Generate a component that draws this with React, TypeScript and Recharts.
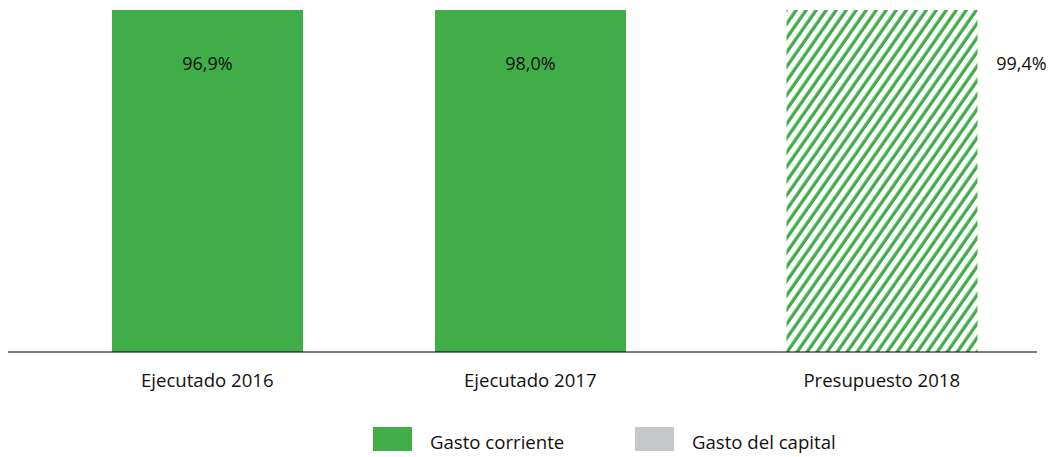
import { BarChart, Bar, XAxis, YAxis, LabelList, Legend } from 'recharts';

// Datos (% sobre el gasto total)
const categorias = ['Ejecutado 2016', 'Ejecutado 2017', 'Presupuesto 2018'];
const gastoCorriente = [96.9, 98.0, 99.4];
const gastoCapital = [3.1, 2.0, 0.6];
const esPresupuesto = [false, false, true];

const VERDE = '#40AD49';
const GRIS = '#C6C7C9';
const FUENTE = '"Open Sans", "Noto Sans", sans-serif';
const ANCHO_BARRA = 191;
const HUECO = -162.5;
// desplazamiento de cada barra respecto al centro de su categoría
const DESPL = (ANCHO_BARRA + HUECO) / 2;

const data = categorias.map((name, i) => ({
  name,
  ejCorr: esPresupuesto[i] ? null : gastoCorriente[i],
  ejCap: esPresupuesto[i] ? null : gastoCapital[i],
  prCorr: esPresupuesto[i] ? gastoCorriente[i] : null,
  prCap: esPresupuesto[i] ? gastoCapital[i] : null,
}));

const fmt = (v: number) => `${v.toFixed(1).replace('.', ',')}%`;

// Etiqueta: centrada dentro de la barra, o a su derecha para el presupuesto
const etiqueta = (fuera: boolean) => (props: any) => {
  const { x, y, width, height, value } = props;
  if (value == null) return null;
  const base = Number(y) + Number(height);
  const cx = fuera ? Number(x) + Number(width) + 44 : Number(x) + Number(width) / 2;
  return (
    <text x={cx} y={base - 282} textAnchor="middle" fill="#111" fontSize={18} fontFamily={FUENTE}>
      {fmt(Number(value))}
    </text>
  );
};

// Rótulo del eje centrado bajo la barra (no bajo la categoría)
const rotulo = (props: any) => {
  const { x, y, payload, index } = props;
  const dx = esPresupuesto[index] ? DESPL : -DESPL;
  return (
    <text x={Number(x) + dx} y={Number(y)} dy="0.71em" textAnchor="middle" fill="#111" fontSize={18.6} fontFamily={FUENTE}>
      {payload.value}
    </text>
  );
};

const leyenda = () => (
  <svg width={1053} height={30} style={{ display: 'block', overflow: 'visible' }}>
    <rect x={373} y={0} width={39} height={24} fill={VERDE} />
    <text x={430} y={22} fontSize={18.6} fontFamily={FUENTE} fill="#111">Gasto corriente</text>
    <rect x={635} y={0} width={39} height={24} fill={GRIS} />
    <text x={692} y={22} fontSize={18.6} fontFamily={FUENTE} fill="#111">Gasto del capital</text>
  </svg>
);

export default function App() {
  return (
    <div style={{ position: 'absolute', left: 0, top: 0, width: 1053, height: 457, overflow: 'hidden', background: '#fff' }}>
      <BarChart
        width={1053}
        height={457}
        data={data}
        margin={{ top: 10, right: 16, left: 8, bottom: 75 }}
        barSize={ANCHO_BARRA}
        barGap={HUECO}
      >
        <defs>
          <pattern id="rayado" patternUnits="userSpaceOnUse" width={8.2} height={8.2} patternTransform="rotate(35)">
            <rect width={8.2} height={8.2} fill="#fff" />
            <line x1={2} y1={0} x2={2} y2={8.2} stroke={VERDE} strokeWidth={3.3} />
          </pattern>
          <pattern id="rayadoGris" patternUnits="userSpaceOnUse" width={8.2} height={8.2} patternTransform="rotate(35)">
            <rect width={8.2} height={8.2} fill="#fff" />
            <line x1={2} y1={0} x2={2} y2={8.2} stroke={GRIS} strokeWidth={3.3} />
          </pattern>
        </defs>
        <XAxis
          dataKey="name"
          interval={0}
          height={30}
          tickLine={false}
          tickSize={0}
          tickMargin={22}
          padding={{ left: 52, right: 8 }}
          axisLine={{ stroke: '#000', strokeWidth: 1 }}
          tick={rotulo}
        />
        <YAxis hide domain={[0, 90]} allowDataOverflow />
        <Legend layout="horizontal" verticalAlign="middle" align="center" content={leyenda}
          wrapperStyle={{ top: 427, left: 0, width: 1053, height: 30 }} />
        <Bar dataKey="ejCorr" stackId="ej" fill={VERDE} isAnimationActive={false}>
          <LabelList dataKey="ejCorr" content={etiqueta(false)} />
        </Bar>
        <Bar dataKey="ejCap" stackId="ej" fill={GRIS} isAnimationActive={false} />
        <Bar dataKey="prCorr" stackId="pr" fill="url(#rayado)" isAnimationActive={false}>
          <LabelList dataKey="prCorr" content={etiqueta(true)} />
        </Bar>
        <Bar dataKey="prCap" stackId="pr" fill="url(#rayadoGris)" isAnimationActive={false} />
      </BarChart>
    </div>
  );
}
